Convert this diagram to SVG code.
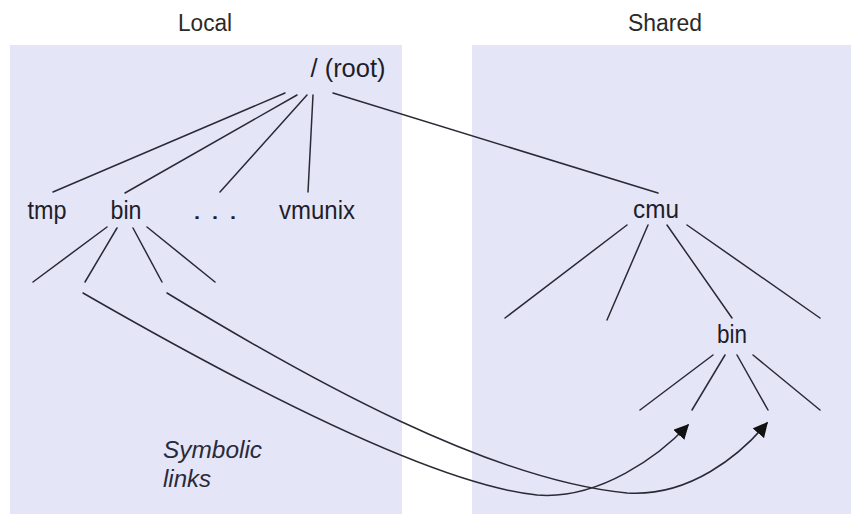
<svg xmlns="http://www.w3.org/2000/svg" width="851" height="514" viewBox="0 0 851 514">
<defs>
<style>
.panel{fill:#e5e5f8;}
.hdr{font-family:"Liberation Sans Narrow","Liberation Sans",Arial,sans-serif;font-size:23px;fill:#2a2a2a;text-anchor:middle;}
.lbl{font-family:"Liberation Sans Narrow","Liberation Sans",Arial,sans-serif;font-size:25px;fill:#1e1e2a;text-anchor:middle;}
.it{font-family:"Liberation Sans Narrow","Liberation Sans",Arial,sans-serif;font-size:24px;font-style:italic;fill:#2a2a3a;}
.edge{stroke:#2a2a35;stroke-width:1.5;fill:none;stroke-linecap:round;}
</style>
<marker id="arr" viewBox="0 0 10 10" refX="9" refY="5" markerWidth="15" markerHeight="15" markerUnits="userSpaceOnUse" orient="auto">
<path d="M0,0 L10,5 L0,10 z" fill="#111"/>
</marker>
</defs>
<rect width="851" height="514" fill="#ffffff"/>
<g id="local-panel">
<rect class="panel" x="10" y="45" width="392" height="469"/>
<text class="hdr" x="205" y="31" textLength="54" lengthAdjust="spacingAndGlyphs">Local</text>
</g>
<g id="shared-panel">
<rect class="panel" x="472" y="45" width="379" height="469"/>
<text class="hdr" x="665" y="31" textLength="74" lengthAdjust="spacingAndGlyphs">Shared</text>
</g>
<g id="connectors">
<line class="edge" x1="285" y1="93" x2="53" y2="192"/>
<line class="edge" x1="297" y1="95" x2="125" y2="193"/>
<line class="edge" x1="307" y1="95" x2="220" y2="192"/>
<line class="edge" x1="313" y1="95" x2="308" y2="192"/>
<line class="edge" x1="333" y1="93" x2="658" y2="193"/>
<line class="edge" x1="107" y1="227" x2="33" y2="282"/>
<line class="edge" x1="117" y1="228" x2="85" y2="282"/>
<line class="edge" x1="133" y1="228" x2="162" y2="282"/>
<line class="edge" x1="147" y1="227" x2="215" y2="282"/>
<line class="edge" x1="627" y1="225" x2="505" y2="318"/>
<line class="edge" x1="648" y1="225" x2="607" y2="320"/>
<line class="edge" x1="667" y1="225" x2="732" y2="318"/>
<line class="edge" x1="687" y1="225" x2="820" y2="318"/>
<line class="edge" x1="713" y1="355" x2="640" y2="410"/>
<line class="edge" x1="725" y1="355" x2="692" y2="410"/>
<line class="edge" x1="737" y1="355" x2="768" y2="410"/>
<line class="edge" x1="753" y1="355" x2="820" y2="410"/>
<path class="edge" marker-end="url(#arr)" d="M83,293 C260,395 440,485 537,495 C600,500 660,455 688,425"/>
<path class="edge" marker-end="url(#arr)" d="M167,293 C310,380 490,480 627,493 C690,497 740,455 767,423"/>
</g>
<g id="node-root"><text class="lbl" x="348" y="77" textLength="75" lengthAdjust="spacingAndGlyphs">/ (root)</text></g>
<g id="node-tmp"><text class="lbl" x="47" y="219" textLength="39" lengthAdjust="spacingAndGlyphs">tmp</text></g>
<g id="node-bin-local"><text class="lbl" x="126" y="219" textLength="31" lengthAdjust="spacingAndGlyphs">bin</text></g>
<g id="node-dots"><text class="lbl" x="215" y="219" textLength="45" lengthAdjust="spacingAndGlyphs">. . .</text></g>
<g id="node-vmunix"><text class="lbl" x="317" y="219" textLength="76" lengthAdjust="spacingAndGlyphs">vmunix</text></g>
<g id="node-cmu"><text class="lbl" x="656" y="218" textLength="46" lengthAdjust="spacingAndGlyphs">cmu</text></g>
<g id="node-bin-shared"><text class="lbl" x="732" y="343" textLength="30" lengthAdjust="spacingAndGlyphs">bin</text></g>
<g id="label-symlinks">
<text class="it" x="163" y="458" textLength="99" lengthAdjust="spacingAndGlyphs">Symbolic</text>
<text class="it" x="163" y="487" textLength="48" lengthAdjust="spacingAndGlyphs">links</text>
</g>
</svg>
